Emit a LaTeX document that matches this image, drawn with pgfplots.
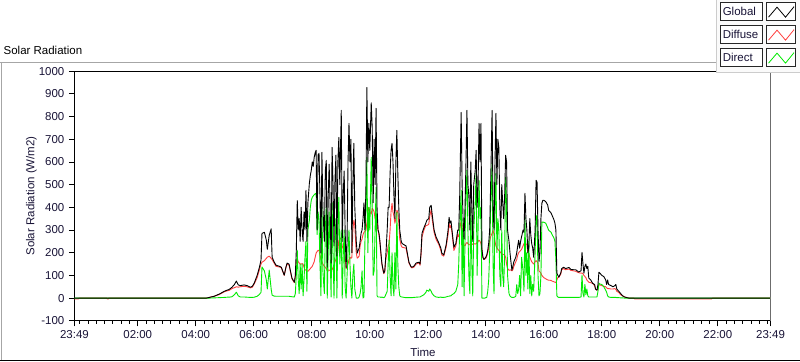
\documentclass[border=0pt]{standalone}
\usepackage{pgfplots}
\usepackage{pgfplotstable}
\pgfplotsset{compat=1.18}
\usepackage{fontspec}
\setmainfont{Liberation Sans}
\definecolor{difred}{RGB}{255,64,64}
\definecolor{dirgreen}{RGB}{0,235,0}
\definecolor{lbl}{RGB}{25,20,55}
\pgfplotstableread{
t G D B
-11 0 -4 0
-3 0 -4 0
-1 0 0 0
56 0 0 0
57 0 -4 0
59 0 -4 0
60 0 0 0
262 0 0 0
268 3 3 0
278 8 8 1
289 18 16 2
299 30 28 3
305 35 32 4
309 38 34 4
315 48 42 6
320 60 46 15
324 75 50 26
328 58 48 10
332 55 50 5
340 58 52 5
346 55 50 4
353 48 45 3
357 52 48 3
361 66 62 4
367 100 90 8
371 130 120 15
375 167 150 25
377 285 158 137
382 290 165 120
386 255 175 80
388 215 180 40
392 277 185 123
396 305 175 40
398 180 170 13
402 160 155 9
406 145 140 8
413 140 137 8
417 136 134 8
423 101 100 8
427 140 138 8
429 154 150 8
433 150 145 8
439 88 85 6
444 70 68 5
446 100 95 20
448 211 167 100
450 430 170 211
452 300 160 80
454 350 155 20
456 250 150 150
458 400 150 40
460 300 152 150
462 250 150 10
464 380 135 80
466 300 125 180
468 475 123 250
470 250 120 30
472 420 118 300
475 505 125 343
477 540 130 400
479 563 135 431
481 600 140 444
483 580 150 450
485 620 160 455
487 640 180 460
489 651 198 462
491 300 205 280
493 630 210 380
495 638 211 343
497 450 190 150
499 198 170 10
501 642 160 400
503 400 150 120
506 250 140 20
508 560 135 300
510 607 130 400
512 136 125 0
514 450 123 200
516 590 123 380
518 400 122 200
520 154 120 5
522 664 125 420
524 500 135 200
526 230 145 0
528 520 160 250
530 630 170 350
532 185 180 0
534 600 210 300
536 708 255 444
538 500 260 150
541 827 265 300
543 250 230 0
545 450 215 180
547 560 200 300
549 300 180 50
551 135 130 0
553 250 136 100
555 600 150 200
557 770 170 300
559 600 180 150
561 700 175 50
563 200 180 0
565 500 300 100
567 682 343 150
569 400 320 40
572 250 200 0
574 198 176 0
576 210 180 0
578 220 185 5
580 250 230 20
582 286 250 50
584 300 260 120
586 350 280 0
588 420 290 5
590 300 295 250
592 475 299 400
594 928 330 620
596 600 370 200
598 770 400 400
600 650 380 300
603 860 370 620
605 752 396 400
607 420 390 100
609 700 380 120
611 500 350 300
613 836 343 488
615 400 360 10
617 300 300 5
619 286 280 5
621 250 240 5
623 200 195 3
625 154 150 5
627 130 125 3
629 110 108 2
631 120 115 5
633 180 170 15
636 300 200 30
638 400 230 150
640 400 240 255
642 550 300 100
644 650 380 10
646 682 418 200
648 600 380 50
650 450 360 10
652 350 330 200
654 600 350 40
656 739 387 378
658 550 380 150
660 400 330 50
662 300 260 10
665 250 230 5
667 240 224 5
671 235 222 3
675 230 220 2
681 158 155 2
685 140 137 2
687 136 133 2
691 140 136 3
696 155 150 4
702 158 155 5
704 150 145 5
706 200 190 8
708 286 270 10
712 310 300 15
716 330 320 25
718 343 320 35
722 350 325 30
724 400 360 40
727 409 390 30
729 370 350 20
733 300 290 10
737 270 260 5
743 242 235 3
747 220 210 5
749 198 190 3
753 190 185 3
758 235 225 5
762 300 280 8
764 356 330 8
766 330 310 10
768 340 320 10
770 300 290 15
774 224 210 20
778 240 230 30
782 300 280 60
784 299 270 150
786 450 300 300
789 818 343 475
791 500 320 50
793 350 260 350
795 260 235 10
797 400 230 250
799 600 240 450
801 827 245 563
803 500 240 300
805 450 235 100
807 300 235 20
809 600 238 400
811 400 240 150
813 250 236 10
815 500 240 300
818 560 238 420
820 651 240 555
822 400 245 100
824 500 250 300
826 770 255 519
828 600 250 350
830 770 240 400
832 215 215 0
834 180 180 0
836 170 170 0
838 175 172 0
840 180 175 2
842 190 185 3
844 210 200 30
846 242 220 80
848 300 250 200
850 500 270 400
853 827 286 594
855 400 299 150
857 300 280 20
859 600 250 400
861 814 230 550
863 500 220 200
865 700 215 350
867 664 210 300
869 400 205 100
871 300 200 50
873 500 195 300
875 420 193 100
877 350 192 50
879 450 190 200
881 629 180 532
883 600 150 400
885 300 130 100
888 250 123 20
890 200 123 10
892 160 125 5
894 123 120 3
896 140 125 3
898 160 140 3
900 170 150 5
902 180 160 8
904 200 170 60
906 230 190 20
908 255 200 40
910 220 205 100
912 250 210 10
914 270 215 180
917 300 230 120
919 290 240 30
921 462 245 356
923 350 240 100
925 300 235 200
927 200 200 40
929 224 195 250
931 350 180 20
933 280 170 100
935 240 160 10
937 220 155 60
939 180 150 30
942 300 160 200
944 519 165 357
946 510 160 365
948 300 155 100
950 160 120 10
952 200 115 20
954 350 110 100
956 418 100 335
958 431 95 335
960 431 90 334
964 425 85 330
968 410 80 310
970 387 79 299
975 375 78 290
977 365 75 280
981 345 72 265
983 330 70 250
985 300 68 167
987 110 80 10
989 100 90 5
991 92 92 3
995 110 105 3
997 130 125 3
1001 136 130 3
1005 130 125 3
1012 135 128 3
1016 126 122 3
1022 125 120 3
1026 125 118 3
1032 115 112 3
1037 120 110 5
1039 202 110 101
1041 150 108 20
1043 110 100 5
1045 140 95 60
1047 150 90 15
1049 130 80 40
1051 140 75 10
1053 88 70 5
1057 80 68 5
1061 65 65 5
1065 60 55 5
1067 40 40 5
1070 35 35 5
1072 60 40 30
1074 114 60 66
1076 110 58 62
1080 100 55 60
1084 95 52 50
1088 80 50 35
1090 60 45 25
1092 80 42 10
1094 60 42 5
1099 55 40 3
1103 50 40 3
1107 55 42 3
1109 60 38 3
1111 40 30 2
1115 30 25 2
1119 20 15 1
1123 10 10 1
1127 5 5 0
1132 2 2 0
1136 0 0 0
1146 0 0 0
1148 0 -4 0
1307 0 -4 0
1309 0 0 0
1429 0 0 0
}\solar
\begin{document}
\begin{tikzpicture}[x=1pt,y=1pt,font=\fontsize{11.5}{13}\selectfont]
\fill[white] (0,0) rectangle (800,361);
% outer panel frame
\draw[gray!70,line width=1pt] (0,299) -- (717,299);
\draw[gray!70,line width=1pt] (1,299) -- (1,0);
\draw[black,line width=1pt] (0,0.5) -- (800,0.5);
\node[anchor=west,inner sep=0pt] at (3,311) {Solar Radiation};
\begin{axis}[
  at={(74pt,40pt)}, anchor=south west,
  scale only axis, width=697pt, height=250pt,
  xmin=-11, xmax=1429, ymin=-100, ymax=1000,
  xtick={-11,120,240,360,480,600,720,840,960,1080,1200,1320,1429},
  xticklabels={23:49,02:00,04:00,06:00,08:00,10:00,12:00,14:00,16:00,18:00,20:00,22:00,23:49},
  minor xtick={0,17.142857,...,1425},
  ytick={-100,0,100,200,300,400,500,600,700,800,900,1000},
  tick pos=left, tick align=outside,
  major tick length=5.5pt, minor tick length=3pt,
  tick style={black,line width=0.8pt},
  axis line style={black,line width=1pt},
  /pgf/number format/assume math mode=true,
  /pgf/number format/1000 sep={},
  ticklabel style={font=\fontsize{11.5}{13}\selectfont, text=lbl},
  xticklabel style={yshift=-1pt},
  yticklabel style={xshift=-1pt},
  clip=true,
]
\addplot[difred, line width=0.9pt, line join=round] table[x=t,y=D] {\solar};
\addplot[dirgreen, line width=0.9pt, line join=round] table[x=t,y=B] {\solar};
\addplot[black, line width=0.9pt, line join=round] table[x=t,y=G] {\solar};
\draw[gray!70,line width=1pt] (rel axis cs:1,0) -- (rel axis cs:1,1);
\end{axis}
\node[text=lbl] at (423,8) {Time};
\node[text=lbl,rotate=90] at (31,165) {Solar Radiation (W/m2)};
% legend
\fill[gray!4] (717,289) rectangle (800,361);
\draw[gray!40] (717,361) -- (717,289) -- (800,289);
\foreach \yy/\lab/\col in {341/Global/black, 318/Diffuse/difred, 295/Direct/dirgreen}{
  \draw[fill=white,draw=black!85,line width=0.9pt] (721,\yy) rectangle (763,\yy+18);
  \node[anchor=west,inner sep=0pt,text=lbl] at (723,\yy+9) {\lab};
  \draw[fill=white,draw=black!85,line width=0.9pt] (767,\yy) rectangle (796,\yy+18);
  \draw[\col,line width=0.8pt] (769,\yy+3) -- (777.5,\yy+13) -- (786,\yy+3) -- (794.5,\yy+13.5);
}
\end{tikzpicture}
\end{document}
